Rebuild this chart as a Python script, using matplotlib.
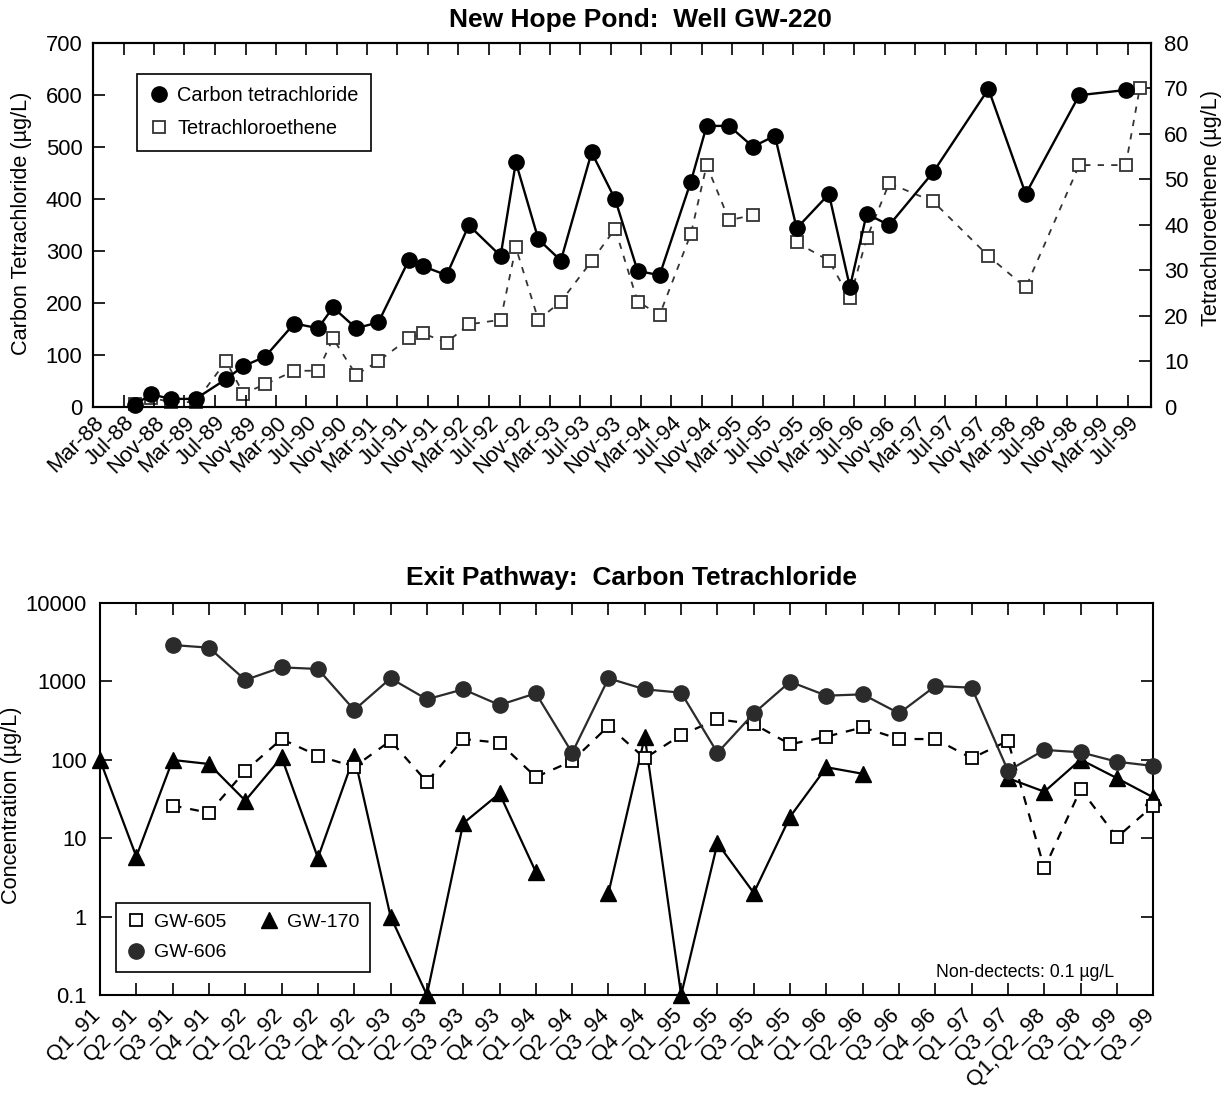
import numpy as np
import matplotlib.pyplot as plt
import matplotlib.dates as mdates
import matplotlib.transforms as mtransforms
from matplotlib.lines import Line2D
from matplotlib.ticker import NullLocator, FixedLocator, FixedFormatter

plt.rcParams['font.family'] = ['Liberation Sans', 'DejaVu Sans']

# ---- New Hope Pond: Well GW-220 ----
ct_dates = ['1988-08-14', '1988-10-18', '1989-01-07', '1989-04-15', '1989-08-15',
            '1989-10-23', '1990-01-18', '1990-05-15', '1990-08-18', '1990-10-17',
            '1991-01-17', '1991-04-16', '1991-08-16', '1991-10-12', '1992-01-14',
            '1992-04-12', '1992-08-17', '1992-10-17', '1993-01-15', '1993-04-15',
            '1993-08-16', '1993-11-18', '1994-02-16', '1994-05-15', '1994-09-17',
            '1994-11-19', '1995-02-17', '1995-05-23', '1995-08-19', '1995-11-14',
            '1996-03-22', '1996-06-14', '1996-08-20', '1996-11-18', '1997-05-13',
            '1997-12-20', '1998-05-18', '1998-12-18', '1999-06-22']
ct_vals = [3, 24, 15, 15, 53, 78, 96, 160, 151, 191, 151, 162, 282, 270, 253,
           349, 290, 470, 322, 281, 489, 399, 261, 253, 433, 540, 540, 500, 521,
           343, 409, 230, 371, 349, 451, 611, 409, 599, 609]

pce_dates = ['1988-08-14', '1988-10-18', '1989-01-07', '1989-04-15', '1989-08-15',
             '1989-10-23', '1990-01-18', '1990-05-15', '1990-08-18', '1990-10-17',
             '1991-01-17', '1991-04-16', '1991-08-16', '1991-10-12', '1992-01-14',
             '1992-04-12', '1992-08-17', '1992-10-17', '1993-01-15', '1993-04-15',
             '1993-08-16', '1993-11-18', '1994-02-16', '1994-05-15', '1994-09-17',
             '1994-11-19', '1995-02-17', '1995-05-23', '1995-08-19', '1995-11-14',
             '1996-03-22', '1996-06-14', '1996-08-20', '1996-11-18', '1997-05-13',
             '1997-12-20', '1998-05-18', '1998-12-18', '1999-06-22', '1999-08-17']
pce_vals = [0.5, 2.0, 1.0, 1.0, 10.0, 2.9, 4.9, 7.9, 7.9, 15.0, 7.0, 10.0, 15.0,
            16.1, 14.1, 18.1, 19.1, 35.0, 19.1, 23.1, 32.0, 39.1, 23.1, 20.2, 38.0,
            53.1, 41.0, 42.1, np.nan, 36.1, 32.1, 23.8, 37.0, 49.1, 45.1, 33.1,
            26.2, 53.1, 53.1, 70.0]

# ---- Exit Pathway: Carbon Tetrachloride ----
quarters = ['Q1_91', 'Q2_91', 'Q3_91', 'Q4_91', 'Q1_92', 'Q2_92', 'Q3_92', 'Q4_92',
            'Q1_93', 'Q2_93', 'Q3_93', 'Q4_93', 'Q1_94', 'Q2_94', 'Q3_94', 'Q4_94',
            'Q1_95', 'Q2_95', 'Q3_95', 'Q4_95', 'Q1_96', 'Q2_96', 'Q3_96', 'Q4_96',
            'Q1_97', 'Q3_97', 'Q1,Q2_98', 'Q3_98', 'Q1_99', 'Q3_99']
nan = np.nan
gw605 = [nan, nan, 26, 21, 72, 183, 112, 81, 174, 52, 183, 164, 60, 96, 268, 104,
         206, 327, 284, 157, 196, 258, 183, 183, 104, 174, 4.1, 42, 10.2, 26]
gw606 = [nan, nan, 2890, 2670, 1035, 1500, 1430, 429, 1087, 587, 787, 497, 700, 122,
         1087, 787, 713, 122, 389, 984, 653, 679, 389, 867, 826, 72, 133, 124, 94, 83]
gw170 = [99, 5.8, 99, 88, 30, 107, 5.6, 111, 1.0, 0.1, 15.4, 37, 3.7, nan, 2.0, 196,
         0.1, 8.6, 2.0, 18.7, 80, 66, nan, nan, nan, 58, 39, 100, 58, 33]

W, H = 1231, 1097
fig = plt.figure(figsize=(W / 100, H / 100), dpi=100)
TICKSIZE = 15.8


def px_axes(l, t, r, b):
    return fig.add_axes([l / W, 1 - b / H, (r - l) / W, (b - t) / H])


def style_ticks(ax):
    ax.tick_params(direction='in', length=8.5, width=1.2, labelsize=TICKSIZE)
    for s in ax.spines.values():
        s.set_linewidth(1.5)


def shift_labels(labels, dx_px):
    off = mtransforms.ScaledTranslation(dx_px / 100, 0, fig.dpi_scale_trans)
    for lab in labels:
        lab.set_rotation(45)
        lab.set_ha('right')
        lab.set_transform(lab.get_transform() + off)


# ================= top chart =================
ax1 = px_axes(93, 42.7, 1151, 406.7)
ax1r = ax1.twinx()
ax1.set_zorder(ax1r.get_zorder() + 1)
ax1.patch.set_visible(False)

ct_x = np.array(ct_dates, dtype='datetime64[D]')
pce_x = np.array(pce_dates, dtype='datetime64[D]')

ax1r.plot(pce_x, pce_vals, color='#333333', lw=1.3, dashes=(3.5, 4),
          marker='s', ms=8, mfc='white', mec='#333333', mew=1.3, clip_on=False)
ax1.plot(ct_x, ct_vals, color='black', lw=1.7, marker='o', ms=11,
         mfc='black', mec='black', clip_on=False)

ax1.set_xlim(np.datetime64('1988-03-01'), np.datetime64('1999-10-01'))
ax1.set_ylim(0, 700)
ax1.set_yticks(range(0, 701, 100))
ax1r.set_ylim(0, 80)
ax1r.set_yticks(range(0, 81, 10))
ax1.xaxis.set_major_locator(mdates.MonthLocator(bymonth=[3, 7, 11]))
ax1.xaxis.set_major_formatter(mdates.DateFormatter('%b-%y'))
style_ticks(ax1)
style_ticks(ax1r)
ax1.tick_params(axis='x', top=True, pad=4)
ax1.tick_params(axis='y', pad=7.5)
ax1r.tick_params(axis='y', pad=9.5)
shift_labels(ax1.get_xticklabels(), 15)

fig.text(22 / W, 1 - 223 / H, 'Carbon Tetrachloride (\u00b5g/L)', rotation=90,
         ha='center', va='center', fontsize=15.6)
fig.text(1212 / W, 1 - 208 / H, 'Tetrachloroethene (\u00b5g/L)', rotation=90,
         ha='center', va='center', fontsize=15.6)
fig.text(640 / W, 1 - 27 / H, 'New Hope Pond:  Well GW-220', ha='center',
         va='baseline', fontsize=19, fontweight='bold')

h1 = [Line2D([], [], ls='none', marker='o', ms=11, color='black'),
      Line2D([], [], ls='none', marker='s', ms=8, mfc='white', mec='#333333', mew=1.3)]
leg1 = ax1.legend(h1, ['Carbon tetrachloride', 'Tetrachloroethene'], loc='upper left',
                  bbox_to_anchor=(0.0416, 0.914), borderaxespad=0, fontsize=14.4,
                  fancybox=False, edgecolor='black', framealpha=1, handlelength=1.0,
                  handletextpad=0.4, labelspacing=0.7, borderpad=0.62)
leg1.get_frame().set_linewidth(1.2)

# ================= bottom chart =================
ax2 = px_axes(100, 602.7, 1153.3, 995)
x = np.arange(len(quarters))
ax2.plot(x, gw170, color='black', lw=1.6, marker='^', ms=11, mfc='black',
         mec='black', clip_on=False, zorder=3)
ax2.plot(x, gw605, color='black', lw=1.6, dashes=(4, 4), marker='s', ms=8,
         mfc='white', mec='black', mew=1.3, clip_on=False, zorder=4)
ax2.plot(x, gw606, color='#2b2b2b', lw=1.6, marker='o', ms=11, mfc='#2b2b2b',
         mec='#2b2b2b', clip_on=False, zorder=5)

ax2.set_yscale('log')
ax2.set_ylim(0.1, 10000)
ax2.set_xlim(0, len(quarters) - 1)
ax2.yaxis.set_major_locator(FixedLocator([0.1, 1, 10, 100, 1000, 10000]))
ax2.yaxis.set_major_formatter(FixedFormatter(['0.1', '1', '10', '100', '1000', '10000']))
ax2.yaxis.set_minor_locator(NullLocator())
ax2.set_xticks(x)
ax2.set_xticklabels(quarters)
style_ticks(ax2)
ax2.tick_params(top=True, right=True)
ax2.tick_params(axis='x', pad=7)
ax2.tick_params(axis='y', pad=9.5)
shift_labels(ax2.get_xticklabels(), 5)

fig.text(12 / W, 1 - 805 / H, 'Concentration (\u00b5g/L)', rotation=90,
         ha='center', va='center', fontsize=15.6)
fig.text(632 / W, 1 - 585 / H, 'Exit Pathway:  Carbon Tetrachloride', ha='center',
         va='baseline', fontsize=19, fontweight='bold')
ax2.text(0.9627, 0.046, 'Non-dectects: 0.1 \u00b5g/L', transform=ax2.transAxes,
         ha='right', va='baseline', fontsize=12.7)

h2 = [Line2D([], [], ls='none', marker='s', ms=8, mfc='white', mec='black', mew=1.3),
      Line2D([], [], ls='none', marker='o', ms=11, color='#2b2b2b'),
      Line2D([], [], ls='none', marker='^', ms=11, color='black')]
leg2 = ax2.legend(h2, ['GW-605', 'GW-606', 'GW-170'], ncol=2, loc='lower left',
                  bbox_to_anchor=(0.0152, 0.0586), borderaxespad=0, fontsize=14,
                  fancybox=False, edgecolor='black', framealpha=1, handlelength=1.0,
                  handletextpad=0.4, labelspacing=0.65, borderpad=0.55,
                  columnspacing=1.7)
leg2.get_frame().set_linewidth(1.2)

fig.savefig('out.png', dpi=100)
